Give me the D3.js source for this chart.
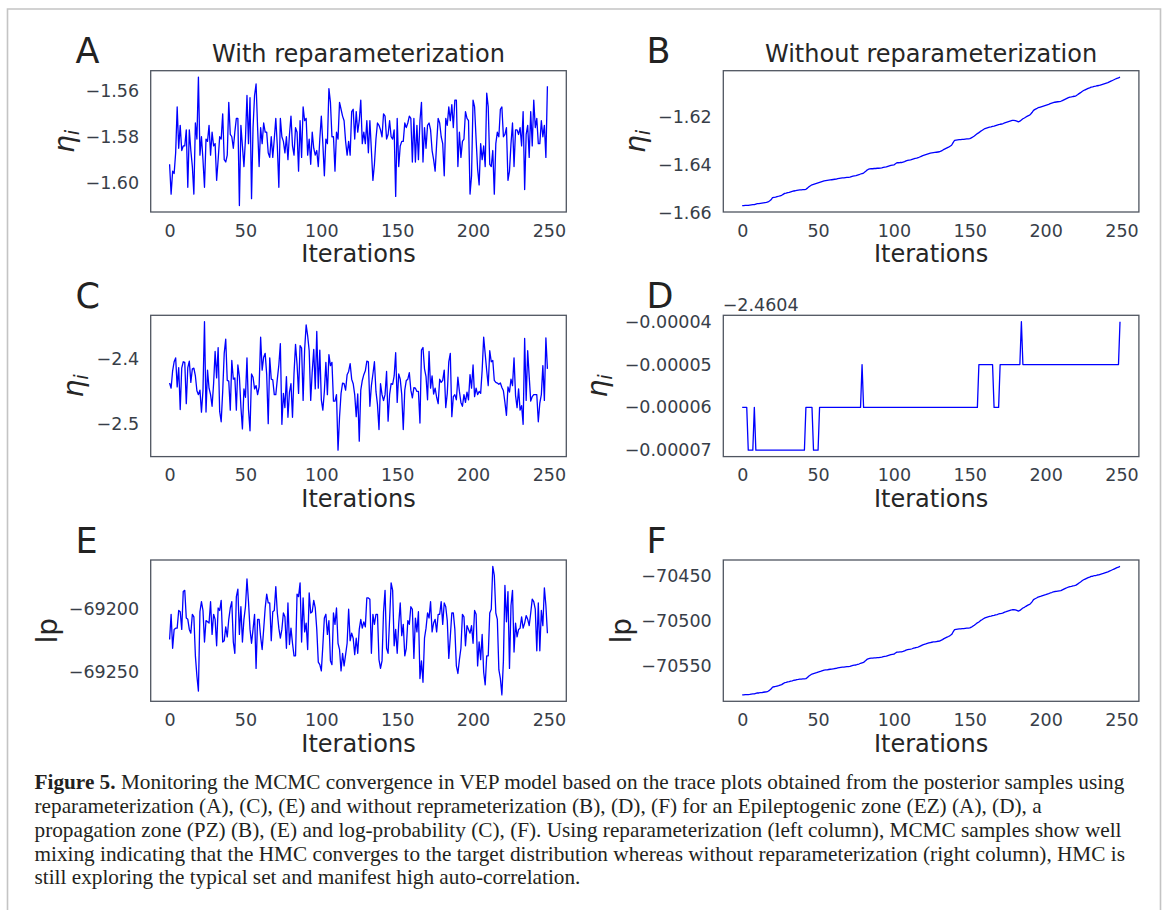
<!DOCTYPE html>
<html>
<head>
<meta charset="utf-8">
<script src="https://cdnjs.cloudflare.com/ajax/libs/d3/7.8.5/d3.min.js"></script>
<style>
  body { margin: 0; background: #fff; }
  svg { display: block; }
</style>
</head>
<body>
<svg id="fig" width="1167" height="910"></svg>
<script>
// trace plots, 250 iterations each
const iterTicks = [0, 50, 100, 150, 200, 250];
const titles = ["With reparameterization", "Without reparameterization"];

const etaA = [
  -1.592,-1.605,-1.595,-1.596,-1.587,-1.567,-1.585,-1.575,-1.586,-1.584,
  -1.584,-1.577,-1.602,-1.577,-1.586,-1.593,-1.605,-1.574,-1.581,-1.554,
  -1.588,-1.580,-1.590,-1.602,-1.581,-1.582,-1.575,-1.588,-1.578,-1.584,
  -1.583,-1.599,-1.590,-1.580,-1.581,-1.570,-1.590,-1.591,-1.588,-1.565,
  -1.579,-1.580,-1.585,-1.578,-1.572,-1.572,-1.610,-1.575,-1.584,-1.593,
  -1.581,-1.562,-1.583,-1.563,-1.607,-1.576,-1.562,-1.557,-1.576,-1.593,
  -1.576,-1.583,-1.574,-1.578,-1.578,-1.587,-1.589,-1.580,-1.589,-1.581,
  -1.572,-1.584,-1.602,-1.572,-1.580,-1.582,-1.587,-1.580,-1.590,-1.579,
  -1.571,-1.584,-1.588,-1.576,-1.578,-1.595,-1.573,-1.589,-1.567,-1.573,
  -1.572,-1.588,-1.581,-1.592,-1.578,-1.585,-1.588,-1.586,-1.593,-1.581,
  -1.571,-1.583,-1.597,-1.581,-1.583,-1.559,-1.565,-1.580,-1.580,-1.595,
  -1.578,-1.581,-1.565,-1.568,-1.571,-1.573,-1.582,-1.588,-1.582,-1.588,
  -1.569,-1.568,-1.581,-1.569,-1.578,-1.573,-1.564,-1.583,-1.578,-1.583,
  -1.573,-1.587,-1.573,-1.586,-1.599,-1.592,-1.581,-1.574,-1.575,-1.577,
  -1.580,-1.570,-1.571,-1.581,-1.579,-1.573,-1.580,-1.581,-1.577,-1.606,
  -1.572,-1.593,-1.584,-1.582,-1.582,-1.574,-1.576,-1.574,-1.571,-1.572,
  -1.591,-1.572,-1.591,-1.575,-1.590,-1.573,-1.565,-1.591,-1.576,-1.585,
  -1.575,-1.574,-1.577,-1.586,-1.590,-1.595,-1.583,-1.572,-1.574,-1.580,
  -1.583,-1.597,-1.572,-1.575,-1.567,-1.573,-1.566,-1.576,-1.564,-1.564,
  -1.593,-1.578,-1.589,-1.582,-1.581,-1.569,-1.572,-1.573,-1.605,-1.597,
  -1.564,-1.567,-1.581,-1.594,-1.601,-1.583,-1.590,-1.584,-1.593,-1.561,
  -1.567,-1.592,-1.593,-1.586,-1.605,-1.583,-1.578,-1.580,-1.568,-1.567,
  -1.580,-1.579,-1.576,-1.599,-1.595,-1.583,-1.574,-1.593,-1.577,-1.577,
  -1.579,-1.576,-1.584,-1.569,-1.603,-1.579,-1.575,-1.589,-1.569,-1.584,
  -1.564,-1.576,-1.572,-1.583,-1.583,-1.573,-1.580,-1.575,-1.589,-1.558
];
const etaB = [
  -1.6569,-1.6569,-1.6568,-1.6568,-1.6568,-1.6567,-1.6566,-1.6565,-1.6565,-1.6563,
  -1.6561,-1.6561,-1.6560,-1.6559,-1.6558,-1.6557,-1.6556,-1.6554,-1.6550,-1.6545,
  -1.6536,-1.6535,-1.6534,-1.6532,-1.6530,-1.6528,-1.6526,-1.6522,-1.6518,-1.6517,
  -1.6515,-1.6514,-1.6512,-1.6510,-1.6508,-1.6507,-1.6505,-1.6504,-1.6503,-1.6503,
  -1.6502,-1.6502,-1.6501,-1.6496,-1.6490,-1.6486,-1.6482,-1.6480,-1.6478,-1.6476,
  -1.6474,-1.6472,-1.6470,-1.6468,-1.6466,-1.6465,-1.6464,-1.6463,-1.6462,-1.6461,
  -1.6460,-1.6459,-1.6458,-1.6456,-1.6455,-1.6454,-1.6453,-1.6453,-1.6452,-1.6451,
  -1.6451,-1.6450,-1.6448,-1.6446,-1.6445,-1.6444,-1.6442,-1.6440,-1.6437,-1.6435,
  -1.6433,-1.6428,-1.6422,-1.6418,-1.6416,-1.6415,-1.6415,-1.6414,-1.6414,-1.6413,
  -1.6413,-1.6412,-1.6411,-1.6409,-1.6408,-1.6407,-1.6405,-1.6403,-1.6401,-1.6400,
  -1.6399,-1.6394,-1.6390,-1.6390,-1.6389,-1.6389,-1.6387,-1.6385,-1.6382,-1.6380,
  -1.6379,-1.6378,-1.6376,-1.6374,-1.6372,-1.6371,-1.6369,-1.6366,-1.6363,-1.6360,
  -1.6358,-1.6356,-1.6354,-1.6352,-1.6350,-1.6349,-1.6348,-1.6347,-1.6346,-1.6345,
  -1.6344,-1.6341,-1.6338,-1.6334,-1.6331,-1.6328,-1.6325,-1.6321,-1.6317,-1.6306,
  -1.6296,-1.6295,-1.6294,-1.6293,-1.6293,-1.6292,-1.6292,-1.6291,-1.6290,-1.6290,
  -1.6289,-1.6286,-1.6282,-1.6278,-1.6273,-1.6268,-1.6264,-1.6259,-1.6255,-1.6251,
  -1.6247,-1.6245,-1.6243,-1.6241,-1.6240,-1.6238,-1.6237,-1.6235,-1.6233,-1.6231,
  -1.6229,-1.6228,-1.6226,-1.6223,-1.6221,-1.6219,-1.6217,-1.6215,-1.6213,-1.6213,
  -1.6214,-1.6216,-1.6219,-1.6216,-1.6211,-1.6206,-1.6203,-1.6199,-1.6195,-1.6192,
  -1.6188,-1.6180,-1.6171,-1.6167,-1.6164,-1.6160,-1.6158,-1.6156,-1.6154,-1.6152,
  -1.6150,-1.6148,-1.6146,-1.6143,-1.6141,-1.6139,-1.6137,-1.6136,-1.6135,-1.6134,
  -1.6133,-1.6130,-1.6127,-1.6124,-1.6121,-1.6118,-1.6116,-1.6115,-1.6113,-1.6112,
  -1.6110,-1.6106,-1.6101,-1.6097,-1.6092,-1.6088,-1.6085,-1.6082,-1.6079,-1.6077,
  -1.6074,-1.6073,-1.6071,-1.6070,-1.6068,-1.6067,-1.6065,-1.6063,-1.6061,-1.6059,
  -1.6057,-1.6055,-1.6052,-1.6049,-1.6046,-1.6043,-1.6040,-1.6037,-1.6035,-1.6032
];
const etaC = [
  -2.437,-2.445,-2.418,-2.404,-2.398,-2.443,-2.413,-2.478,-2.414,-2.404,
  -2.405,-2.469,-2.413,-2.403,-2.436,-2.415,-2.414,-2.426,-2.449,-2.455,
  -2.448,-2.482,-2.449,-2.342,-2.482,-2.417,-2.445,-2.455,-2.473,-2.438,
  -2.388,-2.429,-2.382,-2.481,-2.497,-2.450,-2.391,-2.369,-2.433,-2.434,
  -2.479,-2.402,-2.431,-2.429,-2.479,-2.409,-2.427,-2.474,-2.508,-2.446,
  -2.459,-2.398,-2.478,-2.511,-2.423,-2.428,-2.446,-2.441,-2.455,-2.443,
  -2.366,-2.417,-2.397,-2.391,-2.424,-2.500,-2.398,-2.431,-2.432,-2.455,
  -2.455,-2.431,-2.409,-2.376,-2.501,-2.453,-2.475,-2.427,-2.490,-2.451,
  -2.438,-2.490,-2.422,-2.377,-2.408,-2.453,-2.379,-2.383,-2.464,-2.385,
  -2.347,-2.364,-2.387,-2.464,-2.419,-2.385,-2.446,-2.357,-2.445,-2.386,
  -2.463,-2.479,-2.450,-2.405,-2.455,-2.393,-2.410,-2.405,-2.465,-2.465,
  -2.455,-2.541,-2.490,-2.453,-2.437,-2.438,-2.448,-2.424,-2.419,-2.407,
  -2.431,-2.438,-2.455,-2.489,-2.454,-2.527,-2.448,-2.433,-2.424,-2.418,
  -2.403,-2.404,-2.473,-2.441,-2.423,-2.404,-2.450,-2.470,-2.509,-2.438,
  -2.455,-2.464,-2.455,-2.419,-2.496,-2.455,-2.438,-2.439,-2.426,-2.390,
  -2.467,-2.423,-2.431,-2.455,-2.509,-2.448,-2.433,-2.431,-2.421,-2.448,
  -2.460,-2.444,-2.445,-2.450,-2.450,-2.499,-2.386,-2.382,-2.415,-2.427,
  -2.463,-2.388,-2.445,-2.426,-2.454,-2.445,-2.459,-2.469,-2.431,-2.436,
  -2.433,-2.417,-2.475,-2.453,-2.404,-2.391,-2.489,-2.458,-2.455,-2.463,
  -2.428,-2.450,-2.467,-2.473,-2.455,-2.467,-2.451,-2.463,-2.424,-2.445,
  -2.409,-2.458,-2.445,-2.455,-2.450,-2.453,-2.417,-2.366,-2.392,-2.418,
  -2.441,-2.387,-2.404,-2.402,-2.433,-2.436,-2.437,-2.439,-2.437,-2.444,
  -2.449,-2.467,-2.487,-2.443,-2.451,-2.431,-2.441,-2.398,-2.456,-2.475,
  -2.446,-2.479,-2.472,-2.501,-2.368,-2.464,-2.387,-2.427,-2.465,-2.458,
  -2.455,-2.455,-2.455,-2.497,-2.468,-2.455,-2.410,-2.464,-2.367,-2.415
];
// panel D: offset -2.4604, values in units of 1e-5
const dOffset = "\u22122.4604";
const etaD = [
  -6,-6,-6,-6,-7,-7,-7,-7,-6,-7,
  -7,-7,-7,-7,-7,-7,-7,-7,-7,-7,
  -7,-7,-7,-7,-7,-7,-7,-7,-7,-7,
  -7,-7,-7,-7,-7,-7,-7,-7,-7,-7,
  -7,-7,-6,-6,-6,-6,-6,-7,-7,-7,
  -7,-6,-6,-6,-6,-6,-6,-6,-6,-6,
  -6,-6,-6,-6,-6,-6,-6,-6,-6,-6,
  -6,-6,-6,-6,-6,-6,-6,-6,-6,-5,
  -6,-6,-6,-6,-6,-6,-6,-6,-6,-6,
  -6,-6,-6,-6,-6,-6,-6,-6,-6,-6,
  -6,-6,-6,-6,-6,-6,-6,-6,-6,-6,
  -6,-6,-6,-6,-6,-6,-6,-6,-6,-6,
  -6,-6,-6,-6,-6,-6,-6,-6,-6,-6,
  -6,-6,-6,-6,-6,-6,-6,-6,-6,-6,
  -6,-6,-6,-6,-6,-6,-6,-6,-6,-6,
  -6,-6,-6,-6,-6,-6,-5,-5,-5,-5,
  -5,-5,-5,-5,-5,-5,-6,-6,-6,-6,
  -5,-5,-5,-5,-5,-5,-5,-5,-5,-5,
  -5,-5,-5,-5,-4,-5,-5,-5,-5,-5,
  -5,-5,-5,-5,-5,-5,-5,-5,-5,-5,
  -5,-5,-5,-5,-5,-5,-5,-5,-5,-5,
  -5,-5,-5,-5,-5,-5,-5,-5,-5,-5,
  -5,-5,-5,-5,-5,-5,-5,-5,-5,-5,
  -5,-5,-5,-5,-5,-5,-5,-5,-5,-5,
  -5,-5,-5,-5,-5,-5,-5,-5,-5,-4
];
const lpE = [
  -69224,-69204,-69231,-69216,-69215,-69215,-69201,-69202,-69216,-69186,
  -69185,-69207,-69208,-69216,-69219,-69204,-69206,-69237,-69253,-69265,
  -69202,-69194,-69201,-69226,-69209,-69210,-69211,-69194,-69220,-69204,
  -69208,-69229,-69199,-69201,-69193,-69226,-69225,-69214,-69222,-69208,
  -69199,-69194,-69226,-69235,-69190,-69184,-69220,-69198,-69226,-69208,
  -69198,-69176,-69194,-69216,-69227,-69216,-69204,-69247,-69208,-69208,
  -69222,-69232,-69216,-69199,-69188,-69195,-69195,-69225,-69202,-69201,
  -69182,-69203,-69215,-69223,-69216,-69203,-69206,-69231,-69195,-69228,
  -69215,-69227,-69237,-69237,-69188,-69190,-69179,-69226,-69191,-69218,
  -69211,-69232,-69187,-69203,-69202,-69193,-69199,-69216,-69242,-69244,
  -69249,-69229,-69207,-69204,-69220,-69209,-69241,-69244,-69203,-69212,
  -69199,-69227,-69232,-69249,-69235,-69245,-69236,-69227,-69200,-69225,
  -69219,-69223,-69236,-69223,-69235,-69216,-69208,-69215,-69210,-69214,
  -69191,-69191,-69192,-69235,-69204,-69212,-69204,-69204,-69240,-69247,
  -69241,-69202,-69185,-69231,-69235,-69208,-69179,-69185,-69229,-69216,
  -69235,-69212,-69195,-69221,-69212,-69237,-69231,-69209,-69212,-69198,
  -69200,-69239,-69207,-69218,-69202,-69255,-69241,-69258,-69223,-69215,
  -69203,-69207,-69194,-69218,-69211,-69208,-69218,-69204,-69204,-69194,
  -69212,-69195,-69198,-69209,-69239,-69222,-69203,-69203,-69216,-69245,
  -69251,-69240,-69231,-69204,-69206,-69229,-69213,-69216,-69219,-69213,
  -69227,-69201,-69204,-69245,-69226,-69240,-69220,-69250,-69260,-69237,
  -69237,-69203,-69200,-69166,-69173,-69203,-69208,-69248,-69255,-69268,
  -69241,-69181,-69210,-69186,-69247,-69197,-69185,-69234,-69211,-69222,
  -69216,-69215,-69206,-69215,-69211,-69205,-69208,-69213,-69203,-69192,
  -69194,-69200,-69233,-69195,-69233,-69201,-69213,-69183,-69197,-69219
];
const lpF = [
  -70582.0,-70582.0,-70581.7,-70581.7,-70581.7,-70581.5,-70581.2,-70580.9,-70580.9,-70580.4,
  -70579.9,-70579.9,-70579.6,-70579.4,-70579.1,-70578.8,-70578.6,-70578.0,-70577.0,-70575.6,
  -70573.3,-70573.0,-70572.7,-70572.2,-70571.7,-70571.1,-70570.6,-70569.5,-70568.5,-70568.2,
  -70567.7,-70567.4,-70566.9,-70566.4,-70565.8,-70565.6,-70565.0,-70564.8,-70564.5,-70564.5,
  -70564.2,-70564.2,-70564.0,-70562.7,-70561.1,-70560.0,-70558.9,-70558.4,-70557.9,-70557.4,
  -70556.8,-70556.3,-70555.8,-70555.2,-70554.7,-70554.4,-70554.2,-70553.9,-70553.6,-70553.4,
  -70553.1,-70552.8,-70552.6,-70552.1,-70551.8,-70551.5,-70551.3,-70551.3,-70551.0,-70550.7,
  -70550.7,-70550.5,-70549.9,-70549.4,-70549.1,-70548.9,-70548.3,-70547.8,-70547.0,-70546.5,
  -70546.0,-70544.6,-70543.0,-70542.0,-70541.5,-70541.2,-70541.2,-70540.9,-70540.9,-70540.7,
  -70540.7,-70540.4,-70540.1,-70539.6,-70539.3,-70539.1,-70538.5,-70538.0,-70537.5,-70537.2,
  -70536.9,-70535.6,-70534.6,-70534.6,-70534.3,-70534.3,-70533.8,-70533.2,-70532.4,-70531.9,
  -70531.6,-70531.4,-70530.9,-70530.3,-70529.8,-70529.5,-70529.0,-70528.2,-70527.4,-70526.6,
  -70526.1,-70525.6,-70525.0,-70524.5,-70524.0,-70523.7,-70523.4,-70523.2,-70522.9,-70522.6,
  -70522.4,-70521.6,-70520.8,-70519.7,-70518.9,-70518.1,-70517.3,-70516.3,-70515.2,-70512.3,
  -70509.7,-70509.4,-70509.1,-70508.9,-70508.9,-70508.6,-70508.6,-70508.3,-70508.1,-70508.1,
  -70507.8,-70507.0,-70505.9,-70504.9,-70503.6,-70502.2,-70501.2,-70499.8,-70498.8,-70497.7,
  -70496.7,-70496.1,-70495.6,-70495.1,-70494.8,-70494.3,-70494.0,-70493.5,-70493.0,-70492.4,
  -70491.9,-70491.6,-70491.1,-70490.3,-70489.8,-70489.2,-70488.7,-70488.2,-70487.7,-70487.7,
  -70487.9,-70488.5,-70489.2,-70488.5,-70487.1,-70485.8,-70485.0,-70483.9,-70482.9,-70482.1,
  -70481.0,-70478.9,-70476.5,-70475.5,-70474.7,-70473.6,-70473.1,-70472.6,-70472.0,-70471.5,
  -70471.0,-70470.4,-70469.9,-70469.1,-70468.6,-70468.0,-70467.5,-70467.3,-70467.0,-70466.7,
  -70466.5,-70465.7,-70464.9,-70464.1,-70463.3,-70462.5,-70462.0,-70461.7,-70461.2,-70460.9,
  -70460.4,-70459.3,-70458.0,-70456.9,-70455.6,-70454.5,-70453.7,-70452.9,-70452.1,-70451.6,
  -70450.8,-70450.6,-70450.0,-70449.8,-70449.2,-70449.0,-70448.4,-70447.9,-70447.4,-70446.8,
  -70446.3,-70445.8,-70445.0,-70444.2,-70443.4,-70442.6,-70441.8,-70441.0,-70440.5,-70439.7
];

const ticksA = [-1.60, -1.58, -1.56];
const ticksB = [-1.66, -1.64, -1.62];
const ticksC = [-2.5, -2.4];
const ticksD = [-7, -6, -5, -4];
const ticksE = [-69250, -69200];
const ticksF = [-70550, -70500, -70450];

const captionLines = [
  "Monitoring the MCMC convergence in VEP model based on the trace plots obtained from the posterior samples using",
  "reparameterization (A), (C), (E) and without reprameterization (B), (D), (F) for an Epileptogenic zone (EZ) (A), (D), a",
  "propagation zone (PZ) (B), (E) and log-probability (C), (F). Using reparameterization (left column), MCMC samples show well",
  "mixing indicating that the HMC converges to the target distribution whereas without reparameterization (right column), HMC is",
  "still exploring the typical set and manifest high auto-correlation."
];

// layout
const colX = [150.7, 723.3], rowY = [70.7, 315.3, 560];
const W = 415.6, H = 141.3;
const sans = "DejaVu Sans";
const tickColor = "#383e48", textColor = "#262626", spineColor = "#4f5560";

const fig = d3.select("#fig");

// outer frame of the figure
fig.append("path")
  .attr("d", "M7.5,915V9H1160.5V915")
  .attr("fill", "none").attr("stroke", "#c4c4c4").attr("stroke-width", 1.6);

const panels = [
  { letter: "A", col: 0, row: 0, data: etaA, ticks: ticksA, fmt: d3.format(".2f"), ylab: "eta", ylabX: 73.5 },
  { letter: "B", col: 1, row: 0, data: etaB, ticks: ticksB, fmt: d3.format(".2f"), ylab: "eta", ylabX: 645 },
  { letter: "C", col: 0, row: 1, data: etaC, ticks: ticksC, fmt: d3.format(".1f"), ylab: "eta", ylabX: 82.5 },
  { letter: "D", col: 1, row: 1, data: etaD, ticks: ticksD, fmt: v => d3.format(".5f")(v * 1e-5), ylab: "eta", ylabX: 607, offset: dOffset },
  { letter: "E", col: 0, row: 2, data: lpE, ticks: ticksE, fmt: d3.format("d"), ylab: "lp", ylabX: 56.5 },
  { letter: "F", col: 1, row: 2, data: lpF, ticks: ticksF, fmt: d3.format("d"), ylab: "lp", ylabX: 631 }
];

panels.forEach(p => {
  const x0 = colX[p.col], y0 = rowY[p.row];
  const g = fig.append("g").attr("transform", `translate(${x0},${y0})`);
  const n = p.data.length - 1;
  const x = d3.scaleLinear().domain([-0.05 * n, n * 1.05]).range([0, W]);
  const [lo, hi] = d3.extent(p.data);
  const pad = (hi - lo) * 0.05;
  const y = d3.scaleLinear().domain([lo - pad, hi + pad]).range([H, 0]);

  g.append("path")
    .datum(p.data)
    .attr("fill", "none")
    .attr("stroke", "#0000ff")
    .attr("stroke-width", 1.3)
    .attr("stroke-linejoin", "round")
    .attr("d", d3.line().x((d, i) => x(i)).y(d => y(d)));

  g.append("rect")
    .attr("width", W).attr("height", H)
    .attr("fill", "none").attr("stroke", spineColor).attr("stroke-width", 1.3);

  const xa = g.append("g").attr("transform", `translate(0,${H})`)
    .call(d3.axisBottom(x).tickValues(iterTicks).tickSize(0).tickPadding(12.3));
  const ya = g.append("g")
    .call(d3.axisLeft(y).tickValues(p.ticks).tickFormat(p.fmt).tickSize(0).tickPadding(11.6));
  [xa, ya].forEach(a => {
    a.select(".domain").remove();
    a.attr("font-family", sans).attr("font-size", 17.5);
    a.selectAll("text").attr("fill", tickColor);
  });

  if (p.offset) {
    g.append("text").attr("x", -0.6).attr("y", -4.6)
      .attr("font-family", sans).attr("font-size", 17.5).attr("fill", tickColor)
      .text(p.offset);
  }

  // panel letter
  g.append("text")
    .attr("x", p.col === 0 ? -75.2 : -76.8).attr("y", -7.3)
    .attr("font-family", sans).attr("font-size", 35).attr("fill", "#222")
    .text(p.letter);

  // title on the first row only
  if (p.row === 0) {
    g.append("text")
      .attr("x", W / 2).attr("y", -8.5)
      .attr("text-anchor", "middle")
      .attr("font-family", sans).attr("font-size", 24).attr("fill", textColor)
      .text(titles[p.col]);
  }

  g.append("text")
    .attr("x", W / 2).attr("y", H + 50.5)
    .attr("text-anchor", "middle")
    .attr("font-family", sans).attr("font-size", 24).attr("fill", textColor)
    .text("Iterations");

  const yl = fig.append("text")
    .attr("transform", `translate(${p.ylabX},${y0 + H / 2}) rotate(-90)`)
    .attr("text-anchor", "middle")
    .attr("font-family", sans).attr("font-size", 28).attr("fill", textColor);
  if (p.ylab === "eta") {
    yl.append("tspan").attr("font-style", "italic").text("\u03b7");
    yl.append("tspan").attr("font-style", "italic").attr("font-size", 19.6).attr("dy", 5).text("i");
  } else {
    yl.text("lp");
  }
});

// caption
const cap = fig.append("g")
  .attr("font-family", "Liberation Serif").attr("font-size", 21.25).attr("fill", "#231f20");
captionLines.forEach((line, i) => {
  const t = cap.append("text").attr("x", 34.5).attr("y", 789.3 + i * 23.75);
  if (i === 0) {
    t.append("tspan").attr("font-weight", "bold").text("Figure 5.");
    t.append("tspan").text(" " + line);
  } else {
    t.text(line);
  }
});
</script>
</body>
</html>
